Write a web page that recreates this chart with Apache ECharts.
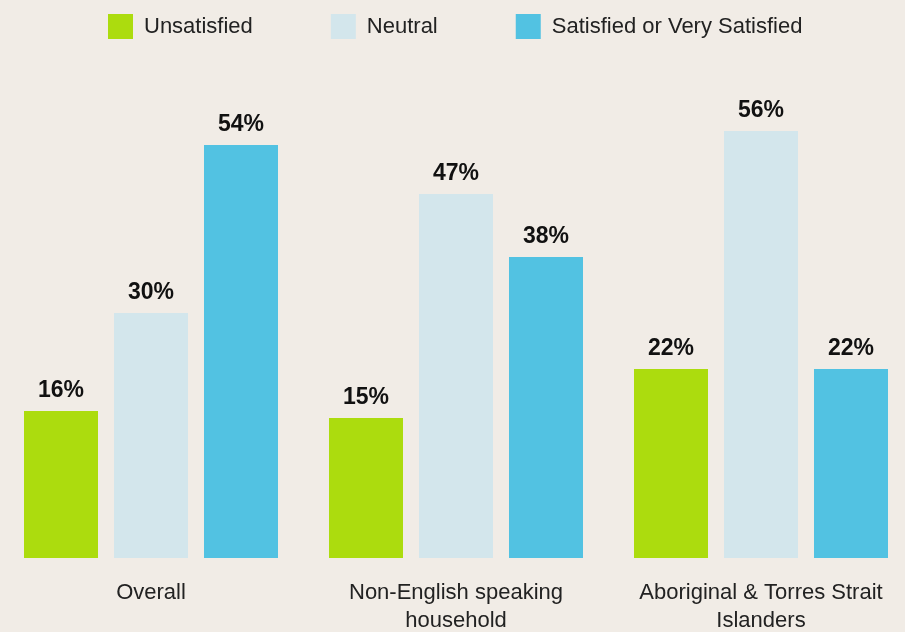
<!DOCTYPE html>
<html>
<head>
<meta charset="utf-8">
<script src="https://cdn.jsdelivr.net/npm/echarts@6/dist/echarts.min.js"></script>
<style>
html, body { margin: 0; padding: 0; background: #f1ece6; overflow: hidden; }
#container1 { width: 916px; height: 632px; margin-left: -2px; }
</style>
</head>
<body>
<div id="container1"></div>
<script>
// 数据
var categories = ["Overall", "Non-English speaking\nhousehold", "Aboriginal & Torres Strait\nIslanders"];
var unsatisfied = [16, 15, 22];
var neutral = [30, 47, 56];
var satisfied = [54, 38, 22];
var seriesNames = ["Unsatisfied", "Neutral", "Satisfied or Very Satisfied"];
var colorList = ["#acdc0e", "#d3e6ec", "#52c2e2"];

// bars in the original start a bit below 0%
var baseOffset = 5;

var font = "Liberation Sans, Arial, sans-serif";

function baseSeries(stack, color) {
    return {
        type: "bar",
        name: "base_" + stack,
        stack: stack,
        silent: true,
        barWidth: 74,
        barGap: "21.62%",
        itemStyle: { color: color },
        data: categories.map(function () { return baseOffset; })
    };
}

function valueSeries(stack, name, color, data) {
    return {
        type: "bar",
        name: name,
        stack: stack,
        barWidth: 74,
        barGap: "21.62%",
        itemStyle: { color: color },
        label: {
            show: true,
            position: "top",
            distance: 9,
            formatter: "{c}%",
            fontFamily: font,
            fontSize: 23,
            fontWeight: "bold",
            color: "#111"
        },
        data: data
    };
}

var echart1 = echarts.init(document.getElementById("container1"));
var option = {
    backgroundColor: "#f1ece6",
    animation: false,
    legend: {
        data: seriesNames,
        left: 105,
        top: 9,
        icon: "rect",
        itemWidth: 25,
        itemHeight: 25,
        itemGap: 78,
        textStyle: {
            fontFamily: font,
            fontSize: 22,
            color: "#222",
            padding: [0, 0, 0, 6]
        }
    },
    grid: {
        left: 0.5,
        right: 0.5,
        top: 68,
        bottom: 74,
        containLabel: false,
        outerBoundsMode: "none"
    },
    xAxis: {
        type: "category",
        data: categories,
        axisLine: { show: false },
        axisTick: { show: false },
        axisLabel: {
            interval: 0,
            margin: 21,
            fontFamily: font,
            fontSize: 22,
            lineHeight: 28,
            color: "#222"
        }
    },
    yAxis: {
        type: "value",
        min: 0,
        max: 70,
        show: false,
        splitLine: { show: false }
    },
    series: [
        baseSeries("s1", colorList[0]),
        valueSeries("s1", seriesNames[0], colorList[0], unsatisfied),
        baseSeries("s2", colorList[1]),
        valueSeries("s2", seriesNames[1], colorList[1], neutral),
        baseSeries("s3", colorList[2]),
        valueSeries("s3", seriesNames[2], colorList[2], satisfied)
    ]
};
echart1.setOption(option);
</script>
</body>
</html>
